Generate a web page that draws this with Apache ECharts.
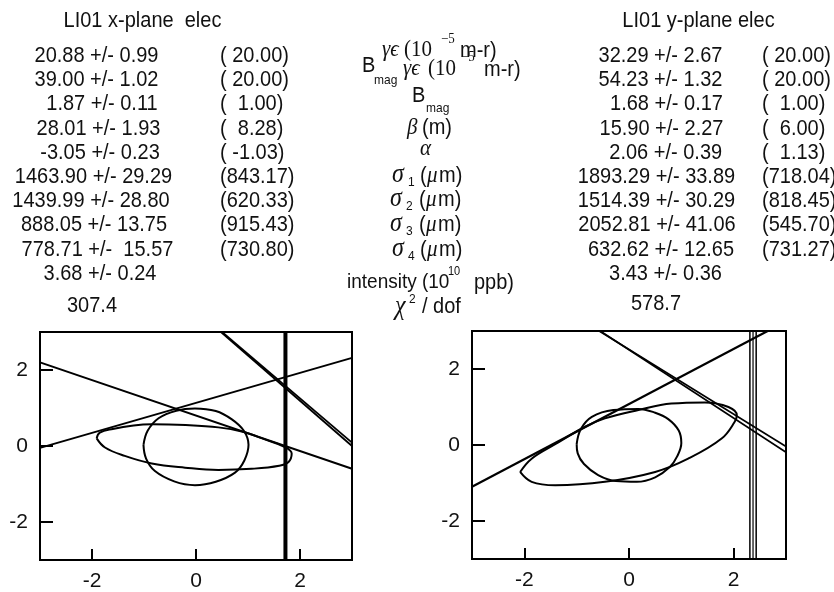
<!DOCTYPE html>
<html><head><meta charset="utf-8">
<script src="https://cdn.jsdelivr.net/npm/echarts@6/dist/echarts.min.js"></script>
<style>html,body{margin:0;padding:0;background:#fff;}#c{width:834px;height:592px;}</style>
</head><body><div id="c"></div>
<script>
// ---------------- data ----------------
const tickVals = [-2, 0, 2];

const xTitle = 'LI01 x-plane  elec';
const yTitle = 'LI01 y-plane elec';
const xFitText = ['20.88 +/- 0.99','39.00 +/- 1.02','1.87 +/- 0.11','28.01 +/- 1.93','-3.05 +/- 0.23','1463.90 +/- 29.29','1439.99 +/- 28.80','888.05 +/- 13.75','778.71 +/-  15.57','3.68 +/- 0.24','307.4'];
const xDesignText = ['( 20.00)','( 20.00)','(  1.00)','(  8.28)','( -1.03)','(843.17)','(620.33)','(915.43)','(730.80)'];
const yFitText = ['32.29 +/- 2.67','54.23 +/- 1.32','1.68 +/- 0.17','15.90 +/- 2.27','2.06 +/- 0.39','1893.29 +/- 33.89','1514.39 +/- 30.29','2052.81 +/- 41.06','632.62 +/- 12.65','3.43 +/- 0.36','578.7'];
const yDesignText = ['( 20.00)','( 20.00)','(  1.00)','(  6.00)','(  1.13)','(718.04)','(818.45)','(545.70)','(731.27)'];

// x-plane phase space
const xLineA = [[-3, 2.2], [3, -0.6]];
const xLineB = [[-3, -0.05], [3, 2.32]];
const xLineC1 = [[0.48, 3], [3, 0.0]];
const xLineC2 = [[0.50, 3], [3, 0.09]];
const xVert = [[1.72, -3], [1.72, 3]];
const xEllipse = [[-1.91,0.20],[-1.85,0.35],[-1.6,0.45],[-1.2,0.54],[-0.85,0.57],[-0.2,0.55],[0.43,0.49],[0.88,0.38],[1.35,0.16],[1.7,-0.02],[1.84,-0.2],[1.78,-0.42],[1.6,-0.52],[1.07,-0.6],[0.43,-0.63],[-0.21,-0.57],[-0.85,-0.46],[-1.37,-0.26],[-1.75,-0.04],[-1.91,0.20]];
const xCircle = [[-1.01,0.03],[-0.93,0.4],[-0.72,0.73],[-0.38,0.93],[-0.02,0.99],[0.38,0.92],[0.69,0.70],[0.92,0.4],[1.01,0.03],[0.93,-0.38],[0.75,-0.70],[0.38,-0.94],[-0.02,-1.03],[-0.42,-0.93],[-0.79,-0.66],[-0.96,-0.33],[-1.01,0.03]];

// y-plane phase space
const yLineUp = [[-3, -1.1], [2.65, 3]];
const yLineDown1 = [[-0.57, 3], [3, -0.04]];
const yLineDown2 = [[-0.55, 3], [3, -0.19]];
const yVert1 = [[2.31, -3], [2.31, 3]];
const yVert2 = [[2.37, -3], [2.37, 3]];
const yVert3 = [[2.43, -3], [2.43, 3]];
const yEllipse = [[-2.08,-0.71],[-1.86,-0.36],[-1.41,0.02],[-0.84,0.48],[-0.46,0.70],[0.18,0.92],[0.81,1.09],[1.45,1.12],[1.9,1.0],[2.06,0.78],[2.02,0.61],[1.77,0.17],[1.13,-0.36],[0.5,-0.71],[-0.46,-0.97],[-1.41,-1.06],[-1.86,-0.97],[-2.08,-0.71]];
const yCircle = [[-1.0,0.02],[-0.92,0.42],[-0.71,0.74],[-0.3,0.92],[0.18,0.95],[0.5,0.85],[0.75,0.68],[0.95,0.38],[1.0,0.05],[0.92,-0.3],[0.78,-0.58],[0.5,-0.85],[0.15,-0.97],[-0.25,-0.95],[-0.59,-0.79],[-0.86,-0.5],[-0.98,-0.22],[-1.0,0.02]];

// ---------------- layout ----------------
const SANS = '"Liberation Sans", Arial, sans-serif';
const SERIF = '"Liberation Serif", "DejaVu Serif", serif';
const TXT = '#111';
function txt(x, y, text, font, align) {
  return {type:'text', x:x, y:y, scaleY:1.1, silent:true, z:10,
    style:{text:text, fill:TXT, font:font, textAlign:align||'left', align:align||'left', verticalAlign:'middle', textVerticalAlign:'middle'}};
}
const F20 = '20px ' + SANS;
const G21 = 'italic 21px ' + SERIF;
const G24 = 'italic 24px ' + SERIF;
const S20 = '21px ' + SERIF;
const SUPS = '13px ' + SERIF;
const SUB = '12px ' + SANS;

const graphics = [];
graphics.push(txt(142.5, 21, xTitle, F20, 'center'));
graphics.push(txt(698.5, 21, yTitle, F20, 'center'));

const ROW0 = 56, DROW = 24.2;
const leftCx = [96.5, 96.5, 102, 98.5, 100, 93.5, 91, 94, 97.5, 100, 92];
const rightCx = [660.5, 660.5, 666.5, 661.5, 665.7, 656.5, 656.5, 657, 661, 665.5, 656];
xFitText.forEach((t, i) => {
  const y = i < 10 ? ROW0 + DROW * i : 306;
  graphics.push(txt(leftCx[i], y, t, F20, 'center'));
});
xDesignText.forEach((t, i) => graphics.push(txt(220, ROW0 + DROW * i, t, F20, 'left')));
yFitText.forEach((t, i) => {
  const y = i < 10 ? ROW0 + DROW * i : 304;
  graphics.push(txt(rightCx[i], y, t, F20, 'center'));
});
yDesignText.forEach((t, i) => graphics.push(txt(762, ROW0 + DROW * i, t, F20, 'left')));

// middle labels
const mid = [
  [382, 50, 'γϵ', G21], [404, 50, '(10', S20], [441, 39, '−5', SUPS], [460, 51, 'm-r)', F20],
  [362, 66, 'B', F20], [374, 80, 'mag', SUB], [403, 69, 'γϵ', G21], [428, 69, '(10', S20], [461, 57, '−5', SUPS], [484, 70, 'm-r)', F20],
  [412, 95.5, 'B', F20], [426, 108, 'mag', SUB],
  [407, 128, 'β', G21], [422, 128, '(m)', F20],
  [420, 149, 'α', G21],
  [392, 175, 'σ', G24], [408, 182, '1', SUB], [420, 176, '(', F20], [427, 176, 'μ', G21], [439, 176, 'm)', F20],
  [390, 199, 'σ', G24], [406, 206, '2', SUB], [419, 200, '(', F20], [426, 200, 'μ', G21], [438, 200, 'm)', F20],
  [390, 224, 'σ', G24], [406, 231, '3', SUB], [419, 225, '(', F20], [426, 225, 'μ', G21], [438, 225, 'm)', F20],
  [392, 249, 'σ', G24], [408, 256, '4', SUB], [420, 250, '(', F20], [427, 250, 'μ', G21], [439, 250, 'm)', F20],
  [347, 282, 'intensity (10', '19px ' + SANS], [448, 272, '10', '11px ' + SANS], [474, 283, 'ppb)', F20],
  [395, 307, 'χ', G24], [409, 299, '2', SUB], [422, 307, '/ dof', F20]
];
mid.forEach(m => graphics.push(txt(m[0], m[1], m[2], m[3], 'left')));

function shape(data, gi, smooth, width) {
  return {type:'line', xAxisIndex:gi, yAxisIndex:gi, data:data, symbol:'none', showSymbol:false,
    smooth: smooth ? 0.4 : false, lineStyle:{color:'#000', width: width || 2}, silent:true, animation:false, z:3};
}

function axisX(gi) {
  return {type:'value', gridIndex:gi, min:-3, max:3, interval:1,
    axisLine:{show:true, onZero:false, lineStyle:{color:'#000', width:2}},
    axisTick:{show:true, inside:true, length:11, customValues:tickVals, lineStyle:{color:'#000', width:2}},
    axisLabel:{show:true, customValues:tickVals, color:'#111', fontSize:21, fontFamily:SANS, margin:11},
    splitLine:{show:false}};
}
function axisY(gi) {
  return {type:'value', gridIndex:gi, min:-3, max:3, interval:1,
    axisLine:{show:true, onZero:false, lineStyle:{color:'#000', width:2}},
    axisTick:{show:true, inside:true, length:13, customValues:tickVals, lineStyle:{color:'#000', width:2}},
    axisLabel:{show:true, customValues:tickVals, color:'#111', fontSize:21, fontFamily:SANS, margin:12},
    splitLine:{show:false}};
}

const chart = echarts.init(document.getElementById('c'));
chart.setOption({
  animation:false,
  backgroundColor:'#fff',
  grid:[
    {left:40, top:332, width:312, height:228, show:true, borderColor:'#000', borderWidth:2, backgroundColor:'transparent'},
    {left:472, top:331, width:314, height:228, show:true, borderColor:'#000', borderWidth:2, backgroundColor:'transparent'}
  ],
  xAxis:[axisX(0), axisX(1)],
  yAxis:[axisY(0), axisY(1)],
  series:[
    shape(xLineA, 0), shape(xLineB, 0), shape(xLineC1, 0, false, 1.8), shape(xLineC2, 0, false, 1.8),
    shape(xVert, 0, false, 4),
    shape(xEllipse, 0, true), shape(xCircle, 0, true),
    shape(yLineUp, 1, false, 2.2), shape(yLineDown1, 1, false, 1.6), shape(yLineDown2, 1, false, 1.6),
    shape(yVert1, 1, false, 1.5), shape(yVert2, 1, false, 1.2), shape(yVert3, 1, false, 1.5),
    shape(yEllipse, 1, true), shape(yCircle, 1, true)
  ],
  graphic:{elements:graphics}
});
</script></body></html>
